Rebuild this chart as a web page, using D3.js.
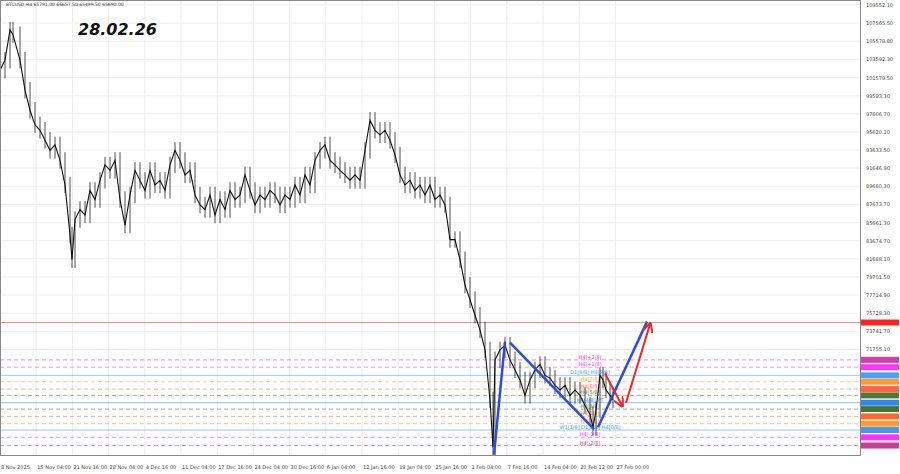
<!DOCTYPE html>
<html><head><meta charset="utf-8">
<script src="https://cdn.jsdelivr.net/npm/d3@7"></script>
<style>body{margin:0;background:#fff}text{font-family:"DejaVu Sans",sans-serif}</style>
</head><body><svg id="root" width="900" height="474"></svg>
<script>
"use strict";
// price series (thousands USD), one point every 5 bars-units
const closes = [102.4,103.5,106.8,106.3,103.5,100.2,98.0,96.4,95.8,94.7,93.6,94.2,92.5,89.8,84.3,81.6,86.0,87.1,86.5,89.2,88.2,90.3,92.0,91.4,92.5,88.2,85.4,88.7,91.4,90.3,89.2,91.4,89.8,90.3,89.2,92.0,93.6,92.5,90.9,91.4,88.7,87.6,87.1,88.7,86.5,88.2,87.1,89.2,88.2,88.7,90.9,89.2,87.6,88.7,88.2,89.2,88.7,87.6,88.7,88.2,89.8,88.7,90.9,89.8,92.5,93.6,94.2,92.5,92.0,91.4,90.9,90.3,90.9,90.3,93.6,96.9,95.8,95.3,95.8,94.7,93.1,90.9,89.8,90.3,89.2,89.8,88.7,89.8,88.2,88.7,87.6,83.8,83.8,81.6,78.8,77.2,75.5,73.9,71.7,66.2,61.0,70.6,71.7,72.2,70.6,69.5,68.4,66.7,68.4,69.5,70.1,68.9,68.6,67.8,67.3,67.8,66.7,67.3,66.7,65.6,64.6,63.2,65.1,68.9,68.4,67.3,66.7,66.2];
const closeX = [0,5,10,13,20,25,30,35,40,45,50,55,60,65,70,72,75,80,85,90,95,100,105,110,115,120,125,130,135,140,145,150,155,160,165,170,175,180,185,190,195,200,205,210,215,220,225,230,235,240,245,250,255,260,265,270,275,280,285,290,295,300,305,310,315,320,325,330,335,340,345,350,355,360,365,370,375,380,385,390,395,400,405,410,415,420,425,430,435,440,445,450,455,460,465,470,475,480,485,490,493,495,500,505,510,515,520,525,530,535,540,545,550,555,560,565,570,575,580,585,590,593,596,600,603,606,610,613];
const yTicks = ["109552.10","107565.50","105578.80","103592.30","101579.50","99593.30","97606.70","95620.10","93633.50","91646.90","89660.30","87673.70","85661.30","83674.70","81688.10","79701.50","77714.90","75728.30","73741.70","71755.10"];
const xLabels = ["8 Nov 2025","15 Nov 04:00","21 Nov 16:00","28 Nov 04:00","4 Dec 16:00","11 Dec 04:00","17 Dec 16:00","24 Dec 04:00","30 Dec 16:00","6 Jan 04:00","12 Jan 16:00","19 Jan 04:00","25 Jan 16:00","1 Feb 04:00","7 Feb 16:00","14 Feb 04:00","20 Feb 12:00","27 Feb 00:00"];
const levels = [70.6,69.8,68.9,68.2,67.4,66.7,65.9,65.2,64.4,63.6,62.9,62.1,61.2];
const levelColors = ["#d63cb0","#ff33ff","#4aa0ff","#ff9933","#ff6644","#557733","#3388ee","#447733","#ff6633","#ff9933","#4499ee","#ff33ff","#c0409a"];
const levelNames = ["H4[+2/8]","H4[+1/8]","D1[8/8] H4[8/8]","H4[7/8]","H4[6/8]","H4[5/8]","H4[4/8] PT","H4[3/8]","H4[2/8]","H4[1/8]","W1[1/8] D1[2/8] H4[0/8]","H4[-1/8]","H4[-2/8]"];
const resistance = 74.7;
const bluePattern = [[[494,60.2],[505,72.6]],[[510,72.5],[594,63.0]],[[598,63.2],[647,74.8]]];
const redArrows = [[[605,69.1],[622,65.6]],[[626,65.9],[650,74.5]]];

const svg = d3.select("#root");
const W = 860, H = 455;
const x = d3.scaleLinear().domain([0, 860]).range([0, W]);
const y = d3.scaleLinear().domain([60.16, 109.552]).range([H, 5]);

// grid
svg.append("g").selectAll("line").data(xLabels).join("line")
  .attr("x1", (d, i) => x(i * 36.2)).attr("x2", (d, i) => x(i * 36.2))
  .attr("y1", 0).attr("y2", H).attr("stroke", "#eee");
svg.append("g").selectAll("line").data(yTicks).join("line")
  .attr("x1", 0).attr("x2", W).attr("y1", (d) => y(+d / 1000)).attr("y2", (d) => y(+d / 1000))
  .attr("stroke", "#eee");

// levels
svg.append("g").selectAll("line").data(levels).join("line")
  .attr("x1", 0).attr("x2", W).attr("y1", (d) => y(d)).attr("y2", (d) => y(d))
  .attr("stroke", (d, i) => levelColors[i]).attr("stroke-opacity", 0.55)
  .attr("stroke-dasharray", (d, i) => (i === 2 || i === 6 || i === 10) ? null : "4,3");
svg.append("g").selectAll("text").data(levels).join("text")
  .attr("x", 590).attr("y", (d) => y(d) - 1).attr("text-anchor", "middle")
  .attr("font-size", 5).attr("fill", (d, i) => levelColors[i]).text((d, i) => levelNames[i]);
svg.append("line").attr("x1", 0).attr("x2", W).attr("y1", y(resistance)).attr("y2", y(resistance))
  .attr("stroke", "#f88").attr("stroke-width", 1);

// price bars
const pts = closes.map((c, i) => ({ x: closeX[i], c }));
svg.append("g").selectAll("line").data(pts.slice(1)).join("line")
  .attr("x1", (d) => x(d.x)).attr("x2", (d) => x(d.x))
  .attr("y1", (d, i) => y(Math.max(d.c, pts[i].c) + 0.9))
  .attr("y2", (d, i) => y(Math.min(d.c, pts[i].c) - 0.9))
  .attr("stroke", "#222").attr("stroke-width", 0.8);
svg.append("path").datum(pts)
  .attr("d", d3.line().x((d) => x(d.x)).y((d) => y(d.c)))
  .attr("fill", "none").attr("stroke", "#111").attr("stroke-width", 1.1);

// pattern
const seg = d3.line().x((d) => x(d[0])).y((d) => y(d[1]));
svg.append("g").selectAll("path").data(bluePattern).join("path")
  .attr("d", seg).attr("stroke", "#2a4be8").attr("stroke-width", 2.5).attr("fill", "none");
svg.append("defs").append("marker").attr("id", "arr").attr("viewBox", "0 0 10 10")
  .attr("refX", 8).attr("refY", 5).attr("markerWidth", 5).attr("markerHeight", 5).attr("orient", "auto")
  .append("path").attr("d", "M0,0L10,5L0,10").attr("fill", "none").attr("stroke", "#e8282a").attr("stroke-width", 2);
svg.append("g").selectAll("path").data(redArrows).join("path")
  .attr("d", seg).attr("stroke", "#e8282a").attr("stroke-width", 2).attr("fill", "none")
  .attr("marker-end", "url(#arr)");

// frame + axes
svg.append("rect").attr("x", 0.5).attr("y", 0.5).attr("width", W).attr("height", H)
  .attr("fill", "none").attr("stroke", "#888");
svg.append("g").selectAll("text").data(yTicks).join("text")
  .attr("x", 866).attr("y", (d) => y(+d / 1000) + 2).attr("font-size", 5).attr("fill", "#444").text((d) => d);
svg.append("g").selectAll("text").data(xLabels).join("text")
  .attr("x", (d, i) => x(i * 36.2) + 1).attr("y", 469).attr("font-size", 5).attr("fill", "#444").text((d) => d);

// price tags
svg.append("rect").attr("x", 861).attr("y", y(resistance) - 3).attr("width", 38).attr("height", 6).attr("fill", "#f22");
svg.append("g").selectAll("rect").data(levels).join("rect")
  .attr("x", 861).attr("y", (d) => y(d) - 3).attr("width", 38).attr("height", 6)
  .attr("fill", (d, i) => levelColors[i]);

svg.append("text").attr("x", 6).attr("y", 6).attr("font-size", 4.5).attr("fill", "#333")
  .text("BTCUSD,H4  65791.00 66657.50 65499.50 65690.00");
svg.append("text").attr("x", 78).attr("y", 35).attr("font-size", 16).attr("font-style", "italic")
  .attr("font-weight", "bold").attr("fill", "#111").text("28.02.26");
</script></body></html>
